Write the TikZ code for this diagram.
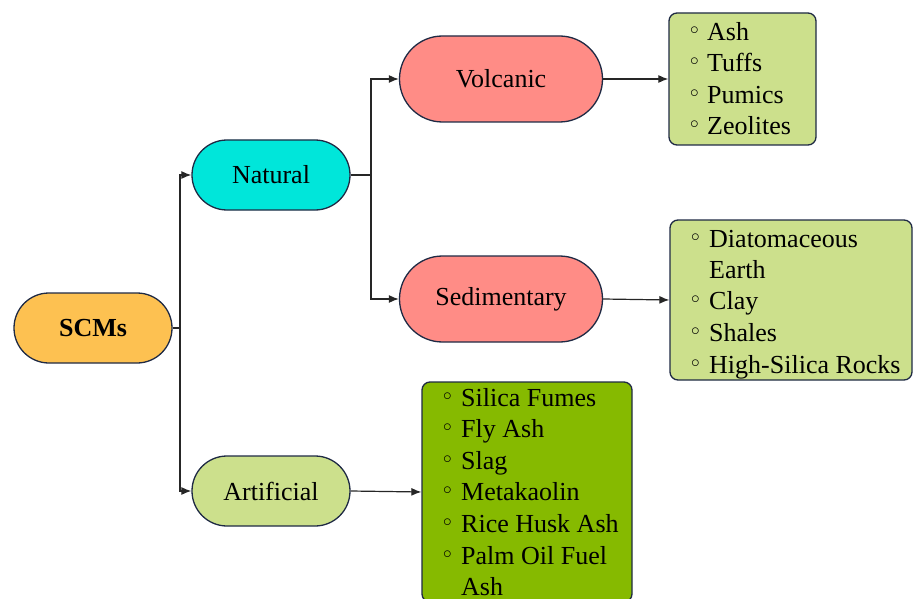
\documentclass[tikz,border=0pt]{standalone}
\usepackage{fontspec}
\setmainfont{Liberation Serif}
\usetikzlibrary{arrows.meta}
\definecolor{edge}{HTML}{1F2A44}
\definecolor{cscm}{HTML}{FDC151}
\definecolor{cnat}{HTML}{00E6DA}
\definecolor{csal}{HTML}{FF8C86}
\definecolor{clgreen}{HTML}{CCE08C}
\definecolor{cdgreen}{HTML}{86BA00}
\tikzset{
  pill/.style={draw=edge, line width=1.3pt, rounded corners=#1, inner sep=0pt,
    font=\fontsize{26}{31}\selectfont},
  listbox/.style={draw=edge, line width=1.3pt, rounded corners=8pt, inner sep=0pt},
  item/.style={anchor=base west, inner sep=0pt, font=\fontsize{26}{31}\selectfont},
  bul/.style={anchor=base west, inner sep=0pt, font=\fontsize{19}{22}\selectfont},
  conn/.style={line width=1.2pt, draw=black!85},
  arr/.style={conn, -{Latex[length=10pt,width=8pt]}}
}
\begin{document}
\begin{tikzpicture}[x=1pt,y=-1pt]
\useasboundingbox (0,0) rectangle (913,599);
% main nodes
\node[pill=35pt, fill=cscm, minimum width=158pt, minimum height=70pt] (scm) at (93,328) {\textbf{SCMs}};
\node[pill=35pt, fill=cnat, minimum width=158pt, minimum height=70pt] (nat) at (271,175) {Natural};
\node[pill=35pt, fill=clgreen, minimum width=158pt, minimum height=70pt] (art) at (271,491) {Artificial};
\node[pill=43pt, fill=csal, minimum width=203pt, minimum height=86pt] (vol) at (501,79) {Volcanic};
\node[pill=43pt, fill=csal, minimum width=203pt, minimum height=86pt] (sed) at (501,299) {Sedimentary};
% list boxes
\node[listbox, fill=clgreen, minimum width=147pt, minimum height=132pt] (vlist) at (742.5,79) {};
\node[listbox, fill=clgreen, minimum width=242pt, minimum height=160pt] (slist) at (791,300) {};
\node[listbox, fill=cdgreen, minimum width=210pt, minimum height=220pt] (alist) at (527,492) {};
% volcanic items
\foreach \t/\y [count=\i] in {Ash/32, Tuffs/63, Pumics/95, Zeolites/126}{
  \node[bul] (vb\i) at (690,\y+3) {$\circ$};
  \node[item] (vi\i) at (707,\y+9) {\t};
}
% sedimentary items
\foreach \t/\y [count=\i] in {Diatomaceous/238, Clay/300, Shales/332, High-Silica Rocks/364}{
  \node[bul] (sb\i) at (691,\y+3) {$\circ$};
  \node[item] (si\i) at (709,\y+9) {\t};
}
\node[item] (searth) at (709,278) {Earth};
% artificial items
\foreach \t/\y [count=\i] in {Silica Fumes/397, Fly Ash/428, Slag/460, Metakaolin/491, Rice Husk Ash/523, Palm Oil Fuel/555}{
  \node[bul] (ab\i) at (443,\y+3) {$\circ$};
  \node[item] (ai\i) at (461,\y+9) {\t};
}
\node[item] (aash) at (461,595) {Ash};
% connectors
\coordinate (j1) at (180,328);
\coordinate (j2) at (371,175);
\draw[conn] (scm.east) -- (j1);
\draw[arr] (j1) |- (nat.west);
\draw[arr] (j1) |- (art.west);
\draw[conn] (nat.east) -- (j2);
\draw[arr] (j2) |- (vol.west);
\draw[arr] (j2) |- (sed.west);
\draw[arr] (vol.east) -- (vlist.west);
\draw[arr] (sed.east) -- (slist.west);
\draw[arr] (art.east) -- (alist.west);
\end{tikzpicture}
\end{document}
